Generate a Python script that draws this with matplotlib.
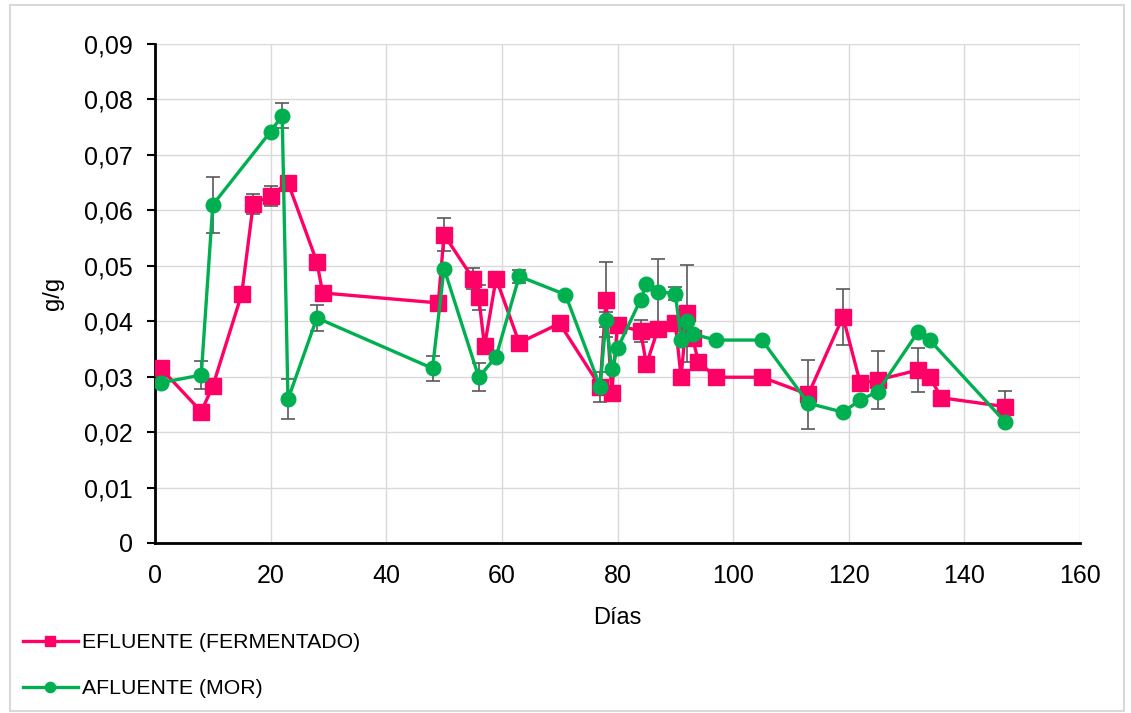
import matplotlib.pyplot as plt
from matplotlib.patches import Rectangle
from matplotlib.ticker import FuncFormatter

plt.rcParams['font.family'] = ['Liberation Sans', 'DejaVu Sans']

# EFLUENTE (FERMENTADO)
dias_ef = [1, 8, 10, 15, 17, 20, 23, 28, 29, 49, 50, 55, 56, 57, 59, 63, 70,
           77, 78, 79, 80, 84, 85, 87, 90, 91, 92, 93, 94, 97, 105, 113, 119,
           122, 125, 132, 134, 136, 147]
gg_ef = [0.0315, 0.0237, 0.0283, 0.0449, 0.0612, 0.0626, 0.0650, 0.0507,
         0.0451, 0.0433, 0.0556, 0.0477, 0.0443, 0.0355, 0.0477, 0.0361,
         0.0396, 0.0282, 0.0439, 0.0270, 0.0393, 0.0382, 0.0322, 0.0386,
         0.0396, 0.0299, 0.0414, 0.0369, 0.0327, 0.0299, 0.0299, 0.0268,
         0.0408, 0.0288, 0.0294, 0.0312, 0.0300, 0.0262, 0.0246]
err_ef = [0, 0, 0, 0, 0.0018, 0.0018, 0, 0, 0, 0, 0.0030, 0.0019, 0.0022, 0,
          0, 0.0012, 0, 0, 0.0067, 0, 0.0010, 0.0020, 0, 0, 0, 0, 0.0087, 0,
          0, 0, 0, 0.0062, 0.0050, 0, 0.0052, 0.0040, 0, 0, 0.0028]

# AFLUENTE (MOR)
dias_af = [1, 8, 10, 20, 22, 23, 28, 48, 50, 56, 59, 63, 71, 77, 78, 79, 80,
           84, 85, 87, 90, 91, 92, 93, 97, 105, 113, 119, 122, 125, 132, 134,
           147]
gg_af = [0.0289, 0.0303, 0.0610, 0.0742, 0.0771, 0.0259, 0.0406, 0.0315,
         0.0495, 0.0299, 0.0336, 0.0481, 0.0448, 0.0282, 0.0403, 0.0313,
         0.0351, 0.0439, 0.0468, 0.0453, 0.0450, 0.0366, 0.0401, 0.0377,
         0.0366, 0.0366, 0.0252, 0.0236, 0.0258, 0.0273, 0.0381, 0.0366,
         0.0219]
err_af = [0, 0.0025, 0.0050, 0, 0.0023, 0.0036, 0.0023, 0.0022, 0, 0.0025, 0,
          0.0012, 0, 0.0027, 0.0013, 0, 0, 0, 0, 0.0060, 0.0012, 0, 0, 0, 0,
          0, 0, 0, 0, 0, 0, 0, 0]

rosa = '#ff0066'
verde = '#00b050'

fig = plt.figure(figsize=(11.31, 7.13), dpi=100)
ax = fig.add_axes([155 / 1131, 170 / 713, 925 / 1131, 499 / 713])

ax.errorbar(dias_ef, gg_ef, yerr=err_ef, fmt='none', ecolor='#595959',
            elinewidth=1.2, capsize=5, capthick=1.2, zorder=2)
ax.errorbar(dias_af, gg_af, yerr=err_af, fmt='none', ecolor='#595959',
            elinewidth=1.2, capsize=5, capthick=1.2, zorder=2)

ax.plot(dias_ef, gg_ef, color=rosa, lw=2.4, marker='s', markersize=11,
        label='EFLUENTE (FERMENTADO)', zorder=3)
ax.plot(dias_af, gg_af, color=verde, lw=2.4, marker='o', markersize=10.5,
        label='AFLUENTE (MOR)', zorder=4)

ax.set_xlim(0, 160)
ax.set_ylim(0, 0.09)
ax.set_xticks(range(0, 161, 20))
ax.set_yticks([i / 100 for i in range(10)])
ax.yaxis.set_major_formatter(FuncFormatter(
    lambda v, p: '0' if abs(v) < 1e-9 else f'{v:.2f}'.replace('.', ',')))

ax.grid(True, color='#d9d9d9', lw=1)
ax.set_axisbelow(True)
for s in ['top', 'right']:
    ax.spines[s].set_visible(False)
ax.spines['left'].set_linewidth(2)
ax.spines['bottom'].set_linewidth(2)
ax.tick_params(axis='y', length=6, width=1.5, pad=10, labelsize=18,
               colors='black')
ax.tick_params(axis='x', length=0, pad=15, labelsize=18)

ax.set_xlabel('Días', fontsize=17, labelpad=14)
ax.set_ylabel('g/g', fontsize=17, labelpad=14)

# leyenda debajo del gráfico, con marcadores más pequeños
fig.legend(loc='upper left', bbox_to_anchor=(14 / 1131, 1 - 625 / 713),
           frameon=False, fontsize=15.3, handlelength=2.6, markerscale=0.7,
           handletextpad=0.2, labelspacing=1.25, borderaxespad=0)

fig.patches.append(Rectangle((10 / 1131, 2 / 713), 1114 / 1131, 706 / 713,
                             transform=fig.transFigure, fill=False,
                             edgecolor='#d9d9d9', lw=1.5))

fig.savefig('out.png', dpi=100)
